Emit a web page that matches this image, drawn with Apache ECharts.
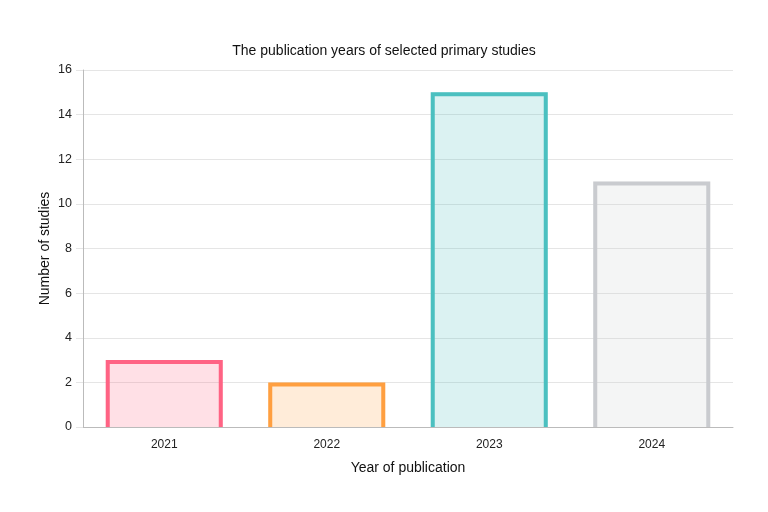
<html>
<head>
    <meta http-equiv="Content-Type" content="text/html; charset=utf-8" />
    <title>Publication years</title>
    <style>
        html, body { margin: 0; padding: 0; background: #fff; }
        #container { width: 768px; height: 512px; }
    </style>
</head>
<body>
    <div id="container"></div>
    <script src="https://cdn.jsdelivr.net/npm/echarts@6/dist/echarts.min.js"></script>
    <script type="text/javascript">
    var years = ['2021', '2022', '2023', '2024'];
    var studies = [3, 2, 15, 11];
    var yTicks = [0, 2, 4, 6, 8, 10, 12, 14, 16];
    var borderColors = ['rgb(255,99,132)', 'rgb(255,159,64)', 'rgb(75,192,192)', 'rgb(201,203,207)'];
    var fillColors = ['rgba(255,99,132,0.2)', 'rgba(255,159,64,0.2)', 'rgba(75,192,192,0.2)', 'rgba(201,203,207,0.2)'];

    var font = '"Liberation Sans", Arial, sans-serif';
    var borderW = 4;

    // bar with border on top/left/right only (no bottom edge)
    function renderBar(params, api) {
        var i = api.value(0);
        var top = api.coord([i, api.value(1)]);
        var base = api.coord([i, 0]);
        var bw = api.size([1, 0])[0] * 0.72;
        var x0 = top[0] - bw / 2;
        var h = base[1] - top[1];
        var half = borderW / 2;
        return {
            type: 'group',
            children: [{
                type: 'rect',
                shape: { x: x0, y: top[1], width: bw, height: h },
                style: { fill: fillColors[i] }
            }, {
                type: 'polyline',
                shape: {
                    points: [[x0 + half, base[1]], [x0 + half, top[1] + half],
                             [x0 + bw - half, top[1] + half], [x0 + bw - half, base[1]]]
                },
                style: { stroke: borderColors[i], lineWidth: borderW, fill: null }
            }]
        };
    }

    var myChart = echarts.init(document.getElementById('container'));

    myChart.setOption({
        animation: false,
        title: {
            text: 'The publication years of selected primary studies',
            left: 'center',
            top: 39,
            textStyle: { fontFamily: font, fontSize: 14, fontWeight: 'normal', color: '#111' }
        },
        grid: { left: 83, right: 35, top: 70, bottom: 85 },
        xAxis: {
            type: 'category',
            data: years,
            name: 'Year of publication',
            nameLocation: 'middle',
            nameGap: 34,
            nameTextStyle: { fontFamily: font, fontSize: 14, color: '#111' },
            axisLine: { lineStyle: { color: '#bbb', width: 1 } },
            axisTick: { show: false },
            axisLabel: { fontFamily: font, fontSize: 12, color: '#222', margin: 12 },
            splitLine: { show: false }
        },
        yAxis: {
            type: 'value',
            min: yTicks[0],
            max: yTicks[yTicks.length - 1],
            interval: yTicks[1] - yTicks[0],
            name: 'Number of studies',
            nameLocation: 'middle',
            nameGap: 31,
            nameMoveOverlap: false,
            nameTextStyle: { fontFamily: font, fontSize: 14, color: '#111' },
            axisLine: { show: true, lineStyle: { color: '#bbb', width: 1 } },
            axisTick: { show: true, length: 7, lineStyle: { color: '#e5e5e5' } },
            axisLabel: { fontFamily: font, fontSize: 12.5, color: '#222', margin: 11 },
            splitLine: { lineStyle: { color: '#e5e5e5', width: 1 } }
        },
        series: [{
            type: 'custom',
            renderItem: renderBar,
            encode: { x: 0, y: 1 },
            data: studies.map(function(v, i) { return [i, v]; })
        }]
    });
    </script>
</body>
</html>
